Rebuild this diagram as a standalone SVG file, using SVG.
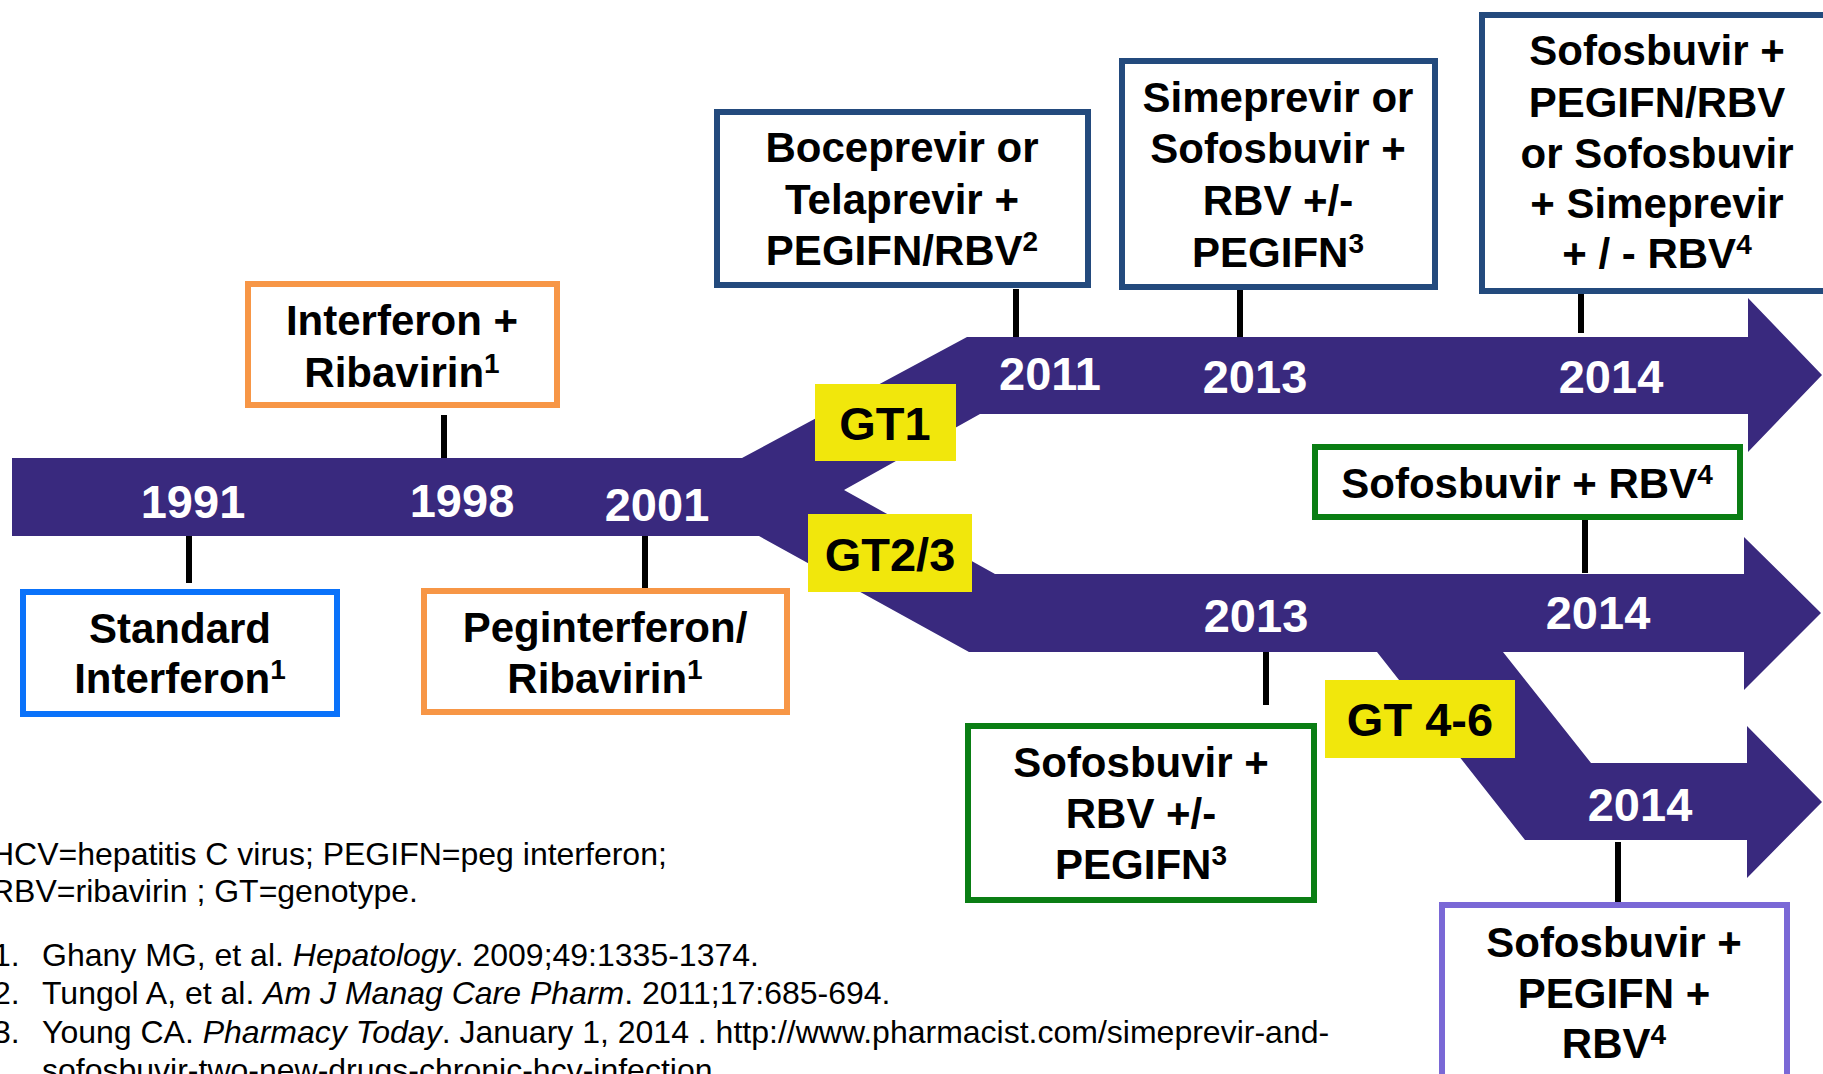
<svg xmlns="http://www.w3.org/2000/svg" width="1823" height="1074" viewBox="0 0 1823 1074">
<style>
.bar{fill:#39297e}
.lbl{fill:#f1e70c}
.box{fill:#ffffff;stroke-width:6}
.t{font-family:"Liberation Sans",Arial,sans-serif;font-weight:bold;font-size:42px;fill:#000;text-anchor:middle}
.yl{font-family:"Liberation Sans",Arial,sans-serif;font-weight:bold;font-size:47px;fill:#000;text-anchor:middle}
.yr{font-family:"Liberation Sans",Arial,sans-serif;font-weight:bold;font-size:47px;fill:#fff;text-anchor:middle}
.sup{font-size:28px}
.stick{stroke:#000;stroke-width:6;fill:none}
.note{font-family:"Liberation Sans",Arial,sans-serif;font-size:32px;fill:#000}
.blue{stroke:#0a72fa}
.orange{stroke:#f79646}
.navy{stroke:#234a7d}
.green{stroke:#0a7e14}
.purple{stroke:#7a68d6}
</style>
<rect width="1823" height="1074" fill="#fff"/>
<g id="timeline">
<path class="bar" d="M12,458 L742,458 L967,337 L1748,337 L1748,298 L1822,375 L1748,452 L1748,414 L980,414 L844,490 L995,574 L1744,574 L1744,537 L1821,613 L1744,690 L1744,652 L1503,652 L1591,763 L1747,763 L1747,726 L1822,802 L1747,878 L1747,840 L1525,840 L1377,652 L969,652 L759,536 L12,536 Z"/>
<text class="yr" x="193" y="518">1991</text>
<text class="yr" x="462" y="517">1998</text>
<text class="yr" x="657" y="521">2001</text>
<text class="yr" x="1050" y="390">2011</text>
<text class="yr" x="1255" y="393">2013</text>
<text class="yr" x="1611" y="393">2014</text>
<text class="yr" x="1256" y="632">2013</text>
<text class="yr" x="1598" y="629">2014</text>
<text class="yr" x="1640" y="821">2014</text>
</g>
<g id="connectors">
<line class="stick" x1="189" y1="536" x2="189" y2="583"/>
<line class="stick" x1="444" y1="415" x2="444" y2="458"/>
<line class="stick" x1="645" y1="536" x2="645" y2="592"/>
<line class="stick" x1="1016" y1="289" x2="1016" y2="337"/>
<line class="stick" x1="1240" y1="290" x2="1240" y2="337"/>
<line class="stick" x1="1581" y1="292" x2="1581" y2="333"/>
<line class="stick" x1="1585" y1="520" x2="1585" y2="573"/>
<line class="stick" x1="1266" y1="652" x2="1266" y2="705"/>
<line class="stick" x1="1618" y1="842" x2="1618" y2="902"/>
</g>
<g id="gt1">
<rect class="lbl" x="815" y="384" width="141" height="77"/>
<text class="yl" x="885" y="440">GT1</text>
</g>
<g id="gt23">
<rect class="lbl" x="808" y="514" width="164" height="78"/>
<text class="yl" x="890" y="571">GT2/3</text>
</g>
<g id="gt46">
<rect class="lbl" x="1325" y="680" width="190" height="78"/>
<text class="yl" x="1420" y="736">GT 4-6</text>
</g>
<g id="standard-interferon">
<rect class="box blue" x="23" y="592" width="314" height="122"/>
<text class="t" x="180" y="643">Standard</text>
<text class="t" x="180" y="693">Interferon<tspan class="sup" dy="-14">1</tspan></text>
</g>
<g id="interferon-ribavirin">
<rect class="box orange" x="248" y="284" width="309" height="121"/>
<text class="t" x="402" y="335">Interferon +</text>
<text class="t" x="402" y="387">Ribavirin<tspan class="sup" dy="-14">1</tspan></text>
</g>
<g id="peginterferon-ribavirin">
<rect class="box orange" x="424" y="591" width="363" height="121"/>
<text class="t" x="605" y="642">Peginterferon/</text>
<text class="t" x="605" y="693">Ribavirin<tspan class="sup" dy="-14">1</tspan></text>
</g>
<g id="boceprevir-telaprevir">
<rect class="box navy" x="717" y="112" width="371" height="173"/>
<text class="t" x="902" y="162">Boceprevir or</text>
<text class="t" x="902" y="214">Telaprevir +</text>
<text class="t" x="902" y="265">PEGIFN/RBV<tspan class="sup" dy="-14">2</tspan></text>
</g>
<g id="simeprevir-sofosbuvir">
<rect class="box navy" x="1122" y="61" width="313" height="226"/>
<text class="t" x="1278" y="112">Simeprevir or</text>
<text class="t" x="1278" y="163">Sofosbuvir +</text>
<text class="t" x="1278" y="215">RBV +/-</text>
<text class="t" x="1278" y="267">PEGIFN<tspan class="sup" dy="-14">3</tspan></text>
</g>
<g id="sofosbuvir-gt1-2014">
<rect class="box navy" x="1482" y="15" width="360" height="276"/>
<text class="t" x="1657" y="65">Sofosbuvir +</text>
<text class="t" x="1657" y="117">PEGIFN/RBV</text>
<text class="t" x="1657" y="168">or Sofosbuvir</text>
<text class="t" x="1657" y="218">+ Simeprevir</text>
<text class="t" x="1657" y="268">+ / - RBV<tspan class="sup" dy="-14">4</tspan></text>
</g>
<g id="sofosbuvir-rbv-2014">
<rect class="box green" x="1315" y="447" width="425" height="70"/>
<text class="t" x="1527" y="498">Sofosbuvir + RBV<tspan class="sup" dy="-14">4</tspan></text>
</g>
<g id="sofosbuvir-rbv-2013">
<rect class="box green" x="968" y="726" width="346" height="174"/>
<text class="t" x="1141" y="777">Sofosbuvir +</text>
<text class="t" x="1141" y="828">RBV +/-</text>
<text class="t" x="1141" y="879">PEGIFN<tspan class="sup" dy="-14">3</tspan></text>
</g>
<g id="sofosbuvir-pegifn-rbv">
<rect class="box purple" x="1442" y="905" width="345" height="200"/>
<text class="t" x="1614" y="957">Sofosbuvir +</text>
<text class="t" x="1614" y="1008">PEGIFN +</text>
<text class="t" x="1614" y="1058">RBV<tspan class="sup" dy="-14">4</tspan></text>
</g>
<g id="footnotes">
<text class="note" x="-9" y="865">HCV=hepatitis C virus; PEGIFN=peg interferon;</text>
<text class="note" x="-9" y="902">RBV=ribavirin ; GT=genotype.</text>
<text class="note" x="-7" y="966">1.</text>
<text class="note" x="42" y="966">Ghany MG, et al. <tspan font-style="italic">Hepatology</tspan>. 2009;49:1335-1374.</text>
<text class="note" x="-7" y="1004">2.</text>
<text class="note" x="42" y="1004">Tungol A, et al. <tspan font-style="italic">Am J Manag Care Pharm</tspan>. 2011;17:685-694.</text>
<text class="note" x="-7" y="1043">3.</text>
<text class="note" x="42" y="1043">Young CA. <tspan font-style="italic">Pharmacy Today</tspan>. January 1, 2014 . http://www.pharmacist.com/simeprevir-and-</text>
<text class="note" x="42" y="1081">sofosbuvir-two-new-drugs-chronic-hcv-infection</text>
</g>
</svg>
